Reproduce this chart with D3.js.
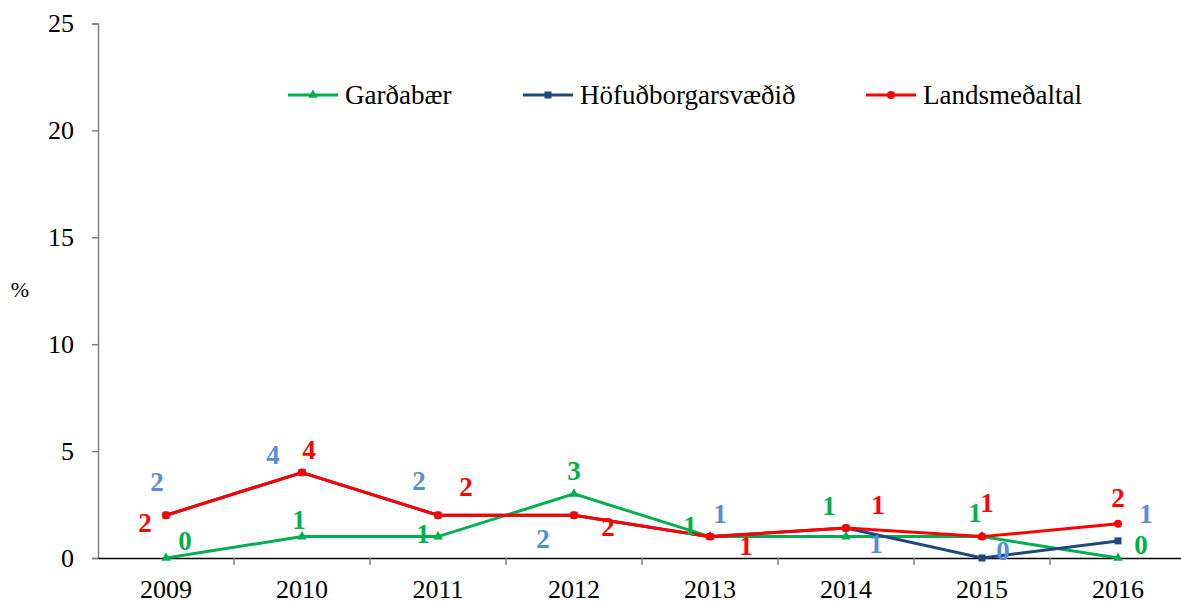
<!DOCTYPE html>
<html>
<head>
<meta charset="utf-8">
<script src="https://cdn.jsdelivr.net/npm/d3@7/dist/d3.min.js"></script>
</head>
<body style="margin:0; background:#fff">
<svg width="1181" height="604" style="display:block" font-family="Liberation Serif"></svg>
<script>
var years = ['2009', '2010', '2011', '2012', '2013', '2014', '2015', '2016'];
var gardabaer = [0, 1, 1, 3, 1, 1, 1, 0];
var hofudborg = [2, 4, 2, 2, 1, 1.4, 0, 0.8];
var landsmedaltal = [2, 4, 2, 2, 1, 1.4, 1, 1.6];
var yTicks = [0, 5, 10, 15, 20, 25];

// label offsets (px from the point), hand placed like the original
var offGreen = [[19, -17], [-3, -17], [-15, -3], [0, -23], [-20, -11], [-17, -31], [-7, -24], [23, -13]];
var offBlue = [[-9, -33], [-29, -17], [-19, -34], [-31, 24], [10, -23], [30, 16], [21, -7], [28, -27]];
var offRed = [[-21, 8], [7, -22], [28, -28], [34, 12], [36, 9], [32, -23], [5, -34], [0, -26]];

var FONT = 'Liberation Serif';
var svg = d3.select('svg');

var x = d3.scaleBand().domain(years).range([98, 1186]).padding(0);
var y = d3.scaleLinear().domain([0, 25]).range([558, 23.5]);
var cx = d => x(d) + x.bandwidth() / 2;

var series = [
    {name: 'Garðabær', values: gardabaer, color: '#00B050', label: '#00B050', marker: 'triangle', off: offGreen},
    {name: 'Höfuðborgarsvæðið', values: hofudborg, color: '#1F497D', label: '#558ED5', marker: 'square', off: offBlue},
    {name: 'Landsmeðaltal', values: landsmedaltal, color: '#FF0000', label: '#FF0000', marker: 'circle', off: offRed}
];

// y axis
var yAxis = svg.append('g')
    .attr('transform', 'translate(98,0)')
    .call(d3.axisLeft(y).tickValues(yTicks).tickSize(6).tickPadding(18))
    .attr('font-family', FONT).attr('font-size', 26);
yAxis.select('.domain').attr('stroke', '#808080').attr('stroke-width', 1.5);
yAxis.selectAll('.tick line').attr('stroke', '#808080').attr('stroke-width', 1.5);
yAxis.selectAll('.tick text').attr('fill', '#000');

// x axis
var xAxis = svg.append('g')
    .attr('transform', 'translate(0,558)')
    .call(d3.axisBottom(x).tickSize(0).tickPadding(22))
    .attr('font-family', FONT).attr('font-size', 26);
xAxis.select('.domain').attr('stroke', '#000').attr('stroke-width', 1.5);
xAxis.selectAll('.tick text').attr('fill', '#000');
xAxis.selectAll('.sep')
    .data(years.slice(1))
    .enter().append('line')
    .attr('x1', d => x(d)).attr('x2', d => x(d))
    .attr('y1', 0).attr('y2', 7)
    .attr('stroke', '#808080').attr('stroke-width', 1.5);

svg.append('text')
    .attr('x', 20).attr('y', 297)
    .attr('text-anchor', 'middle')
    .attr('font-family', FONT).attr('font-size', 22)
    .text('%');

function drawMarker(g, type, color, px, py) {
    if (type === 'triangle') {
        g.append('path')
            .attr('d', d3.symbol().type(d3.symbolTriangle).size(40)())
            .attr('transform', 'translate(' + px + ',' + py + ')')
            .attr('fill', color);
    } else if (type === 'square') {
        g.append('rect')
            .attr('x', px - 3.5).attr('y', py - 3.5)
            .attr('width', 7).attr('height', 7)
            .attr('fill', color);
    } else {
        g.append('circle')
            .attr('cx', px).attr('cy', py).attr('r', 4)
            .attr('fill', color);
    }
}

var line = d3.line().x((d, i) => cx(years[i])).y(d => y(d));

series.forEach(function(s) {
    var g = svg.append('g');
    g.append('path')
        .datum(s.values)
        .attr('d', line)
        .attr('fill', 'none')
        .attr('stroke', s.color)
        .attr('stroke-width', 3);
    s.values.forEach(function(v, i) {
        drawMarker(g, s.marker, s.color, cx(years[i]), y(v));
    });
});

// data labels
series.forEach(function(s) {
    svg.append('g').selectAll('text')
        .data(s.values)
        .enter().append('text')
        .attr('x', (d, i) => cx(years[i]) + s.off[i][0])
        .attr('y', (d, i) => y(d) + s.off[i][1] + 9)
        .attr('text-anchor', 'middle')
        .attr('font-family', FONT).attr('font-size', 27).attr('font-weight', 'bold')
        .attr('fill', s.label)
        .text(d => Math.round(d));
});

// legend
var legendX = [288, 523, 866];
var legend = svg.append('g');
series.forEach(function(s, i) {
    var lx = legendX[i];
    legend.append('line')
        .attr('x1', lx).attr('x2', lx + 50)
        .attr('y1', 95).attr('y2', 95)
        .attr('stroke', s.color).attr('stroke-width', 3);
    drawMarker(legend, s.marker, s.color, lx + 25, 95);
    legend.append('text')
        .attr('x', lx + 57).attr('y', 104)
        .attr('font-family', FONT).attr('font-size', 27)
        .text(s.name);
});
</script>
</body>
</html>
